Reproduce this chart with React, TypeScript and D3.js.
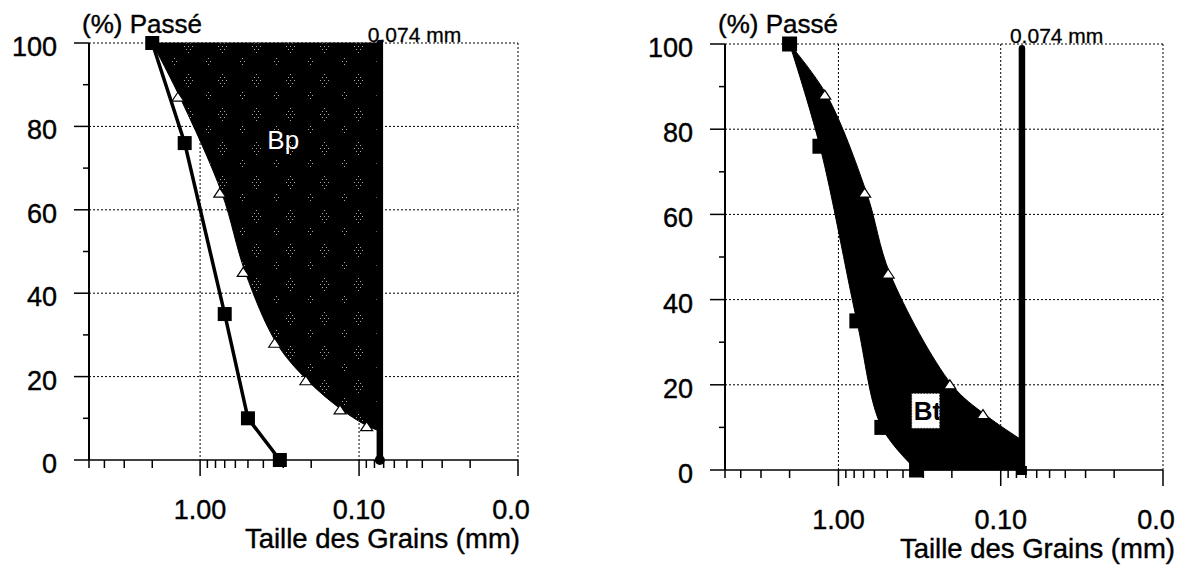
import React from 'react';
import * as d3 from 'd3';

// ---------- data ----------
const yTickValues = [0, 20, 40, 60, 80, 100];
const yMinorValues = [10, 30, 50, 70, 90];
const xMajorValues = [1, 0.1, 0.01];
const xMajorLabels = ['1.00', '0.10', '0.0'];
const sizeDomain: [number, number] = [5, 0.01];
const sieveSize = 0.074;
const sieveLabel = '0.074 mm';
const yTitle = '(%) Passé';
const xTitle = 'Taille des Grains (mm)';

// Left panel (Bp)
const bpSquareSize = [2.0, 1.25, 0.7, 0.5, 0.315];
const bpSquarePct = [100, 76, 35, 10, 0];
const bpTriangleSize = [2.0, 1.34, 0.73, 0.52, 0.33, 0.21, 0.128, 0.087];
const bpTrianglePct = [100, 87, 64, 45, 28, 19, 12, 8];
const bpSievePct = 7;
const bpLabel = 'Bp';

// Right panel (Bt)
const btSquareSize = [2.0, 1.3, 0.77, 0.54, 0.33];
const btSquarePct = [100, 76, 35, 10, 0];
const btTriangleSize = [2.0, 1.18, 0.67, 0.48, 0.2, 0.125];
const btTrianglePct = [100, 88, 65, 46, 20, 13];
const btSievePct = 7;
const btLabel = 'Bt';

const FONT = 'Arial, "Liberation Sans", Helvetica, sans-serif';

type PanelProps = {
  id: string;
  x0: number;
  x1: number;
  yTop: number;
  yBot: number;
  titleShift: number;
  variant: 'bp' | 'bt';
};

function Panel({ id, x0, x1, yTop, yBot, titleShift, variant }: PanelProps) {
  const xs = d3.scaleLog().domain(sizeDomain).range([x0, x1]);
  const ys = d3.scaleLinear().domain([0, 100]).range([yBot, yTop]);
  const minorX = xs.ticks().filter((v) => !xMajorValues.some((m) => Math.abs(m - v) < 1e-9));

  const sqSize = variant === 'bp' ? bpSquareSize : btSquareSize;
  const sqPct = variant === 'bp' ? bpSquarePct : btSquarePct;
  const trSize = variant === 'bp' ? bpTriangleSize : btTriangleSize;
  const trPct = variant === 'bp' ? bpTrianglePct : btTrianglePct;
  const sievePct = variant === 'bp' ? bpSievePct : btSievePct;

  const sqPts: [number, number][] = sqSize.map((s, i) => [s, sqPct[i]]);
  const trPts: [number, number][] = trSize.map((s, i) => [s, trPct[i]]);

  const smooth = d3
    .line<[number, number]>()
    .x((d) => xs(d[0]))
    .y((d) => ys(d[1]))
    .curve(d3.curveCatmullRom.alpha(0.5));
  const straight = d3
    .line<[number, number]>()
    .x((d) => xs(d[0]))
    .y((d) => ys(d[1]));

  const upper = smooth([...trPts, [sieveSize, sievePct]]) || '';
  let fillPath = '';
  if (variant === 'bp') {
    fillPath = upper + `L${xs(sieveSize)},${ys(100)}Z`;
  } else {
    const back = (smooth([...sqPts].reverse()) || '').replace(/^M/, 'L');
    fillPath = upper + `L${xs(sieveSize)},${ys(0)}` + back + 'Z';
  }

  const sx = xs(sieveSize);
  const sq = variant === 'bp' ? 14 : 15;
  const triPath = (x: number, y: number) => `M${x - 6},${y + 4}L${x},${y - 5}L${x + 6},${y + 4}Z`;
  const txt = { fontFamily: FONT, fill: '#000', stroke: '#000', strokeWidth: 0.4 };

  return (
    <g>
      {/* grid */}
      {yTickValues.filter((v) => v > 0).map((v) => (
        <line key={'gy' + v} x1={x0} x2={x1} y1={ys(v)} y2={ys(v)} stroke="#000" strokeWidth={1} strokeDasharray="2,2" />
      ))}
      {xMajorValues.map((v) => (
        <line key={'gx' + v} x1={xs(v)} x2={xs(v)} y1={yTop} y2={yBot} stroke="#000" strokeWidth={1} strokeDasharray="2,2" />
      ))}

      {/* filled zone */}
      <path d={fillPath} fill={variant === 'bp' ? `url(#stip-${id})` : '#000'} stroke="#000" strokeWidth={1} />

      {/* axes */}
      <line x1={x0} x2={x0} y1={yTop} y2={yBot} stroke="#000" strokeWidth={2} />
      <line x1={x0} x2={x1} y1={yBot} y2={yBot} stroke="#000" strokeWidth={1.5} />
      {yTickValues.map((v) => (
        <g key={'yt' + v}>
          <line x1={x0 - 15} x2={x0} y1={ys(v)} y2={ys(v)} stroke="#000" strokeWidth={1.5} />
          <text x={x0 - 32} y={ys(v) + 13} textAnchor="end" fontSize={27} {...txt}>
            {v}
          </text>
        </g>
      ))}
      {yMinorValues.map((v) => (
        <line key={'ym' + v} x1={x0 - 6} x2={x0} y1={ys(v)} y2={ys(v)} stroke="#000" strokeWidth={1.5} />
      ))}
      {minorX.map((v) => (
        <line key={'xm' + v} x1={xs(v)} x2={xs(v)} y1={yBot} y2={yBot + 8} stroke="#000" strokeWidth={1.5} />
      ))}
      {xMajorValues.map((v, i) => (
        <g key={'xt' + v}>
          <line x1={xs(v)} x2={xs(v)} y1={yBot} y2={yBot + 16} stroke="#000" strokeWidth={1.5} />
          <text
            x={xs(v) + (i === xMajorValues.length - 1 ? -7 : 0)}
            y={yBot + 59}
            textAnchor="middle"
            fontSize={27}
            {...txt}
          >
            {xMajorLabels[i]}
          </text>
        </g>
      ))}

      {/* squares series */}
      {variant === 'bp' && (
        <path d={straight(sqPts) || ''} fill="none" stroke="#000" strokeWidth={3.5} />
      )}

      {/* sieve line */}
      <line
        x1={sx}
        x2={sx}
        y1={variant === 'bp' ? ys(100) : ys(99)}
        y2={ys(0)}
        stroke="#000"
        strokeWidth={6.5}
        strokeLinecap="round"
      />
      {variant === 'bp' ? (
        <circle cx={sx} cy={ys(0)} r={5} fill="#000" />
      ) : (
        <rect x={sx - 5} y={ys(0) - 4} width={10} height={9} fill="#000" />
      )}

      {/* triangles */}
      {trPts.slice(1).map((p, i) => (
        <path key={'tr' + i} d={triPath(xs(p[0]) - 2, ys(p[1]))} fill="#fff" stroke="#000" strokeWidth={1.2} />
      ))}

      {/* squares */}
      {sqPts.map((p, i) => (
        <rect key={'sq' + i} x={xs(p[0]) - sq / 2} y={ys(p[1]) - sq / 2} width={sq} height={sq} fill="#000" />
      ))}

      {/* texts */}
      <text x={x0 - 7} y={33} fontSize={26} {...txt}>
        {yTitle}
      </text>
      <text x={sx - 12} y={yTop - 1} fontSize={21} {...txt} strokeWidth={0.3}>
        {sieveLabel}
      </text>
      <text x={x1 + titleShift} y={yBot + 88} textAnchor="end" fontSize={27.5} {...txt}>
        {xTitle}
      </text>

      {variant === 'bp' && (
        <text x={xs(0.3)} y={ys(74.5)} textAnchor="middle" fontFamily={FONT} fontSize={26} fill="#fff">
          {bpLabel}
        </text>
      )}
      {variant === 'bt' && (
        <g>
          <clipPath id={`btclip-${id}`}>
            <rect x={xs(0.29) - 14} y={ys(14) - 17} width={28} height={35} />
          </clipPath>
          <rect
            x={xs(0.29) - 14}
            y={ys(14) - 17}
            width={28}
            height={35}
            fill="#fff"
            stroke="#000"
            strokeWidth={1}
            strokeDasharray="1,2"
          />
          <text
            x={xs(0.29) - 12}
            y={ys(14) + 10}
            fontFamily={FONT}
            fontWeight="bold"
            fontSize={26}
            fill="#000"
            clipPath={`url(#btclip-${id})`}
          >
            {btLabel}
          </text>
        </g>
      )}
    </g>
  );
}

export default function App() {
  const dots: [number, number][] = [
    [18, 6], [16, 9], [20, 9], [14, 12], [18, 12], [22, 12], [16, 15], [20, 15], [18, 18],
    [4, 24], [6, 27], [2, 27], [4, 30],
  ];
  return (
    <svg
      width={1184}
      height={567}
      style={{ position: 'absolute', left: 0, top: 0, background: '#fff' }}
      xmlns="http://www.w3.org/2000/svg"
    >
      <defs>
        {['left', 'right'].map((id) => (
          <pattern key={id} id={`stip-${id}`} width={34} height={34} patternUnits="userSpaceOnUse">
            <rect width={34} height={34} fill="#000" />
            {dots.map((d, i) => (
              <rect key={i} x={d[0]} y={d[1]} width={1} height={1} fill="#aaa" />
            ))}
          </pattern>
        ))}
      </defs>
      <rect width={1184} height={567} fill="#fff" />
      <Panel id="left" x0={89} x1={518} yTop={43} yBot={460} titleShift={2} variant="bp" />
      <Panel id="right" x0={725} x1={1163} yTop={44} yBot={470} titleShift={12} variant="bt" />
    </svg>
  );
}
